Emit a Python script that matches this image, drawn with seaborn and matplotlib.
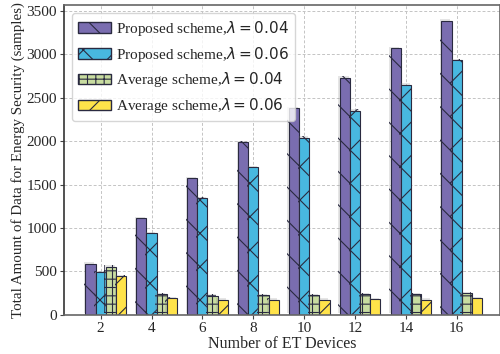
import matplotlib
matplotlib.use("Agg")
import matplotlib.pyplot as plt
import matplotlib.patheffects as pe
import numpy as np
import pandas as pd
import seaborn as sns

devices = [2, 4, 6, 8, 10, 12, 14, 16]
schemes = [r"Proposed scheme,$\lambda = 0.04$", r"Proposed scheme,$\lambda = 0.06$",
           r"Average scheme,$\lambda = 0.04$", r"Average scheme,$\lambda = 0.06$"]
proposed_004 = [590, 1110, 1570, 1990, 2380, 2730, 3070, 3390]
proposed_006 = [490, 940, 1340, 1700, 2040, 2350, 2650, 2930]
average_004 = [555, 236, 221, 225, 225, 236, 236, 247]
average_006 = [441, 187, 171, 175, 175, 180, 175, 190]

colors = ["#7a6db0", "#48b8e0", "#c8dca0", "#ffe34a"]
hatches = ["\\", "x", "++", "/"]

df = pd.DataFrame({
    "devices": devices * 4,
    "scheme": np.repeat(schemes, len(devices)),
    "value": proposed_004 + proposed_006 + average_004 + average_006,
})

sns.set_style("whitegrid")
plt.rcParams["font.family"] = ["Liberation Serif", "DejaVu Serif"]
plt.rcParams["hatch.linewidth"] = 0.8

fig = plt.figure(figsize=(5, 3.54), dpi=100)
ax = fig.add_axes([0.128, 0.111, 0.872, 0.875])

sns.barplot(data=df, x="devices", y="value", hue="scheme", hue_order=schemes,
            palette=colors, width=0.8, saturation=1, ax=ax, legend=True)

for bars, h in zip(ax.containers, hatches):
    for bar in bars:
        bar.set_hatch(h)
        bar.set_edgecolor("#2a2a40")
        bar.set_linewidth(0.8)
        bar.set_path_effects([pe.SimplePatchShadow(offset=(-1, 1), shadow_rgbFace="gray", alpha=0.2), pe.Normal()])

ax.set_xticks(np.arange(len(devices)) - 0.1)
ax.set_xticklabels([str(d) for d in devices])
ax.set_xlim(-0.82, 7.75)
ax.set_ylim(0, 3570)
ax.set_yticks(np.arange(0, 3501, 500))
ax.tick_params(axis="both", labelsize=11, length=3, left=True, bottom=True, color="#444444", pad=2)
ax.set_xlabel("Number of ET Devices", fontsize=11.5, labelpad=1)
ax.set_ylabel("Total Amount of Data for Energy Security (samples)", fontsize=10.8, labelpad=1)
ax.grid(True, linestyle=(0, (3, 2)), color="#c4c4c4", linewidth=0.7)
ax.set_axisbelow(True)
for s in ax.spines.values():
    s.set_color("#666666")
    s.set_linewidth(1.2)
ax.spines["left"].set_color("#333333")

handles, labels = ax.get_legend_handles_labels()
for hnd, h in zip(handles, hatches):
    hnd.set_hatch(h)
    hnd.set_edgecolor("#2a2a40")
ax.legend(handles, labels, loc="upper left", fontsize=11, frameon=True,
          edgecolor="#cccccc", handlelength=2.2, handletextpad=0.3,
          borderpad=0.4, labelspacing=0.45, title=None)

fig.savefig("out.png", dpi=100)
